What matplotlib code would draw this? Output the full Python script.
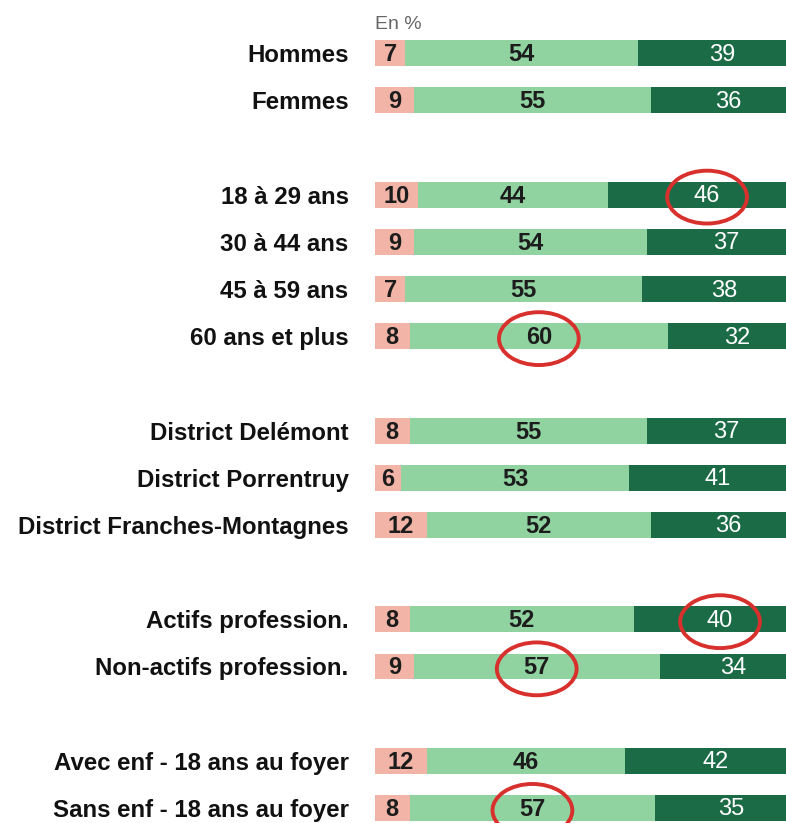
import numpy as np
import matplotlib
matplotlib.use("Agg")
import matplotlib.pyplot as plt
from matplotlib.patches import Ellipse
from matplotlib.font_manager import fontManager

# données (en %)
categories = ["Hommes", "Femmes",
              "18 à 29 ans", "30 à 44 ans", "45 à 59 ans", "60 ans et plus",
              "District Delémont", "District Porrentruy", "District Franches-Montagnes",
              "Actifs profession.", "Non-actifs profession.",
              "Avec enf - 18 ans au foyer", "Sans enf - 18 ans au foyer"]
rows = [0, 1, 3, 4, 5, 6, 8, 9, 10, 12, 13, 15, 16]
non = [7, 9, 10, 9, 7, 8, 8, 6, 12, 8, 9, 12, 8]
plutot = [54, 55, 44, 54, 55, 60, 55, 53, 52, 52, 57, 46, 57]
oui = [39, 36, 46, 37, 38, 32, 37, 41, 36, 40, 34, 42, 35]
# valeurs entourées en rouge : (index catégorie, segment)
cercles = [(2, 2), (5, 1), (9, 2), (10, 1), (12, 1)]

names = {f.name for f in fontManager.ttflist}
fam = "Liberation Sans Narrow" if "Liberation Sans Narrow" in names else "Liberation Sans"
plt.rcParams['font.family'] = [fam, 'DejaVu Sans']

col_non = "#f1b4a6"
col_plutot = "#90d3a0"
col_oui = "#1b6c46"

fig = plt.figure(figsize=(7.86, 8.23), dpi=100)
ax = fig.add_axes([375 / 786, 0.001, 1 - 375 / 786, 0.963])

non = np.array(non)
plutot = np.array(plutot)
oui = np.array(oui)
y = np.array(rows)
h = 0.55

ax.barh(y, non, height=h, color=col_non)
ax.barh(y, plutot, left=non, height=h, color=col_plutot)
ax.barh(y, oui, left=non + plutot, height=h, color=col_oui)

segs = [(np.zeros(len(non)), non), (non, plutot), (non + plutot, oui)]
for k, (left, val) in enumerate(segs):
    for i in range(len(val)):
        xc = left[i] + val[i] / 2
        if k == 2:
            ax.text(xc, y[i] + 0.03, str(val[i]), ha='center', va='center',
                    color='white', fontsize=17)
        else:
            ax.text(xc, y[i] + 0.03, str(val[i]), ha='center', va='center',
                    color='#1c1c1c', fontsize=17, fontweight='bold')

for i, k in cercles:
    left, val = segs[k]
    xc = left[i] + val[i] / 2
    e = Ellipse((xc, y[i] + 0.05), 18.5, 1.12, fill=False, edgecolor='#d8302c',
                linewidth=2.8, clip_on=False)
    ax.add_patch(e)

ax.set_xlim(0, 95.3)
ax.set_ylim(16.3, -0.5)
ax.set_yticks(y)
ax.set_yticklabels(categories, fontsize=17.3, fontweight='bold', color='#111111')
ax.tick_params(axis='y', length=0, pad=19)
ax.set_xticks([])
for s in ax.spines.values():
    s.set_visible(False)

ax.text(0, -0.6, "En %", ha='left', va='center', fontsize=14, color='#666666')

fig.savefig("out.png", dpi=100)
